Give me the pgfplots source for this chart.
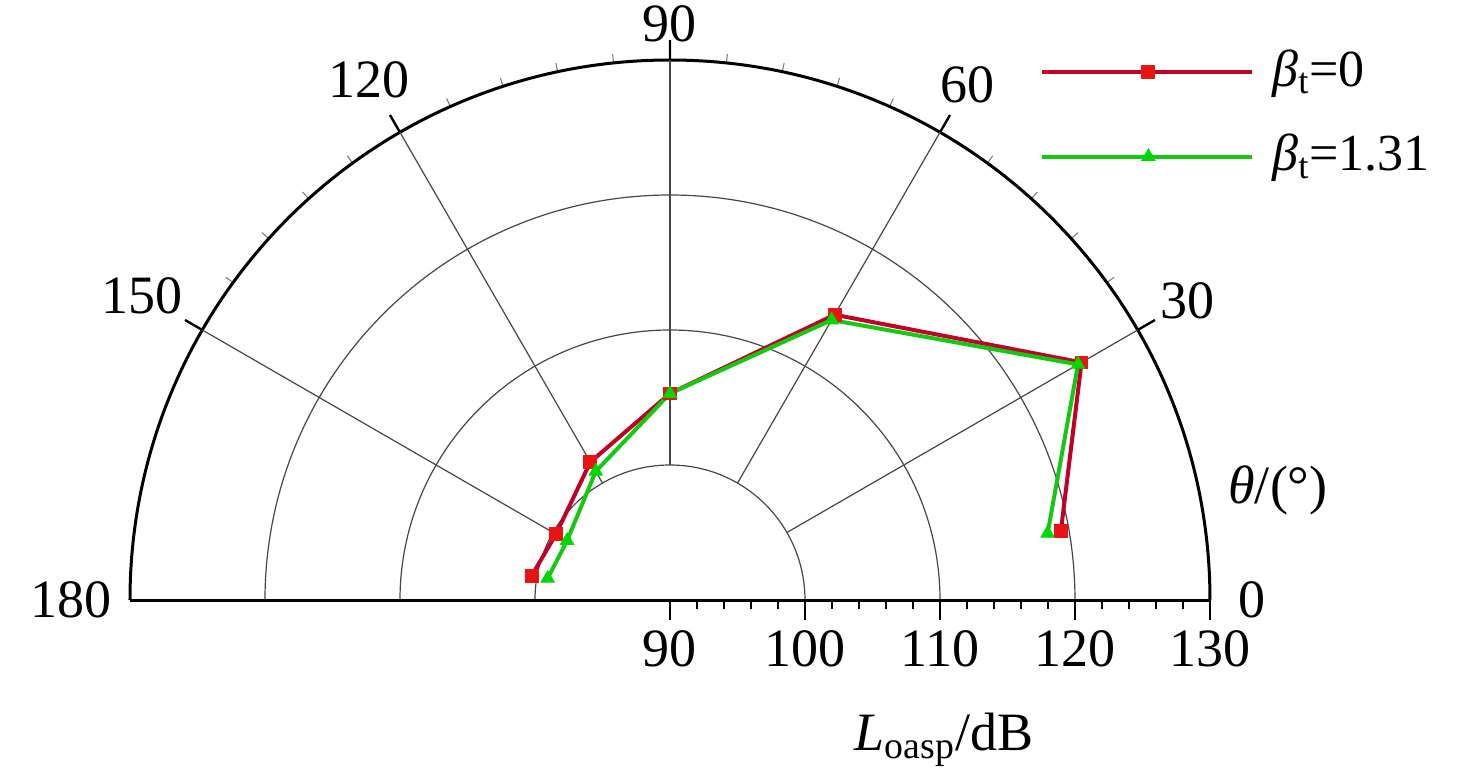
\documentclass[border=0pt]{standalone}
\usepackage{fontspec}
\setmainfont{Liberation Serif}
\usepackage{pgfplots}
\usepackage{pgfplotstable}
\pgfplotsset{compat=1.18}
\usepgfplotslibrary{polar}
\definecolor{redline}{RGB}{192,0,40}
\definecolor{redmark}{RGB}{232,20,20}
\definecolor{greenline}{RGB}{20,200,20}
\definecolor{greenmark}{RGB}{0,215,0}
\definecolor{gridgray}{RGB}{70,70,70}

\pgfplotstableread{
theta L
10 119.4
30 125.2
60 114.4
90 105.3
120 101.8
150 99.75
170 100.4
}\redtable
\pgfplotstableread{
theta L
10 118.4
30 124.9
60 113.95
90 105.3
120 101.0
150 98.8
170 99.2
}\greentable

\pgfplotsset{
  mylegend/.style={
    legend image code/.code={
      \draw[mark repeat=2,mark phase=2,##1] plot coordinates {(0pt,0pt) (53pt,0pt) (105pt,0pt)};
    }
  }
}

\begin{document}
\fontsize{27}{32}\selectfont
\begin{tikzpicture}
\path[use as bounding box] (-335pt,-88pt) rectangle (403pt,300pt);
\begin{polaraxis}[
  at={(0pt,0pt)}, anchor=origin,
  scale only axis, width=540pt, height=540pt,
  xmin=0, xmax=180, ymin=0, ymax=40,
  xtick={30,60,...,150}, minor x tick num=4,
  extra x ticks={0,180},
  extra x tick labels={\hspace{5pt}0, 180\hspace{-3pt}},
  extra x tick style={major tick length=0pt, xmajorgrids=false},
  ytick={0,10,...,40}, yticklabels={90,100,110,120,130}, minor y tick num=4,
  ytick pos=left,
  xmajorgrids=false, xminorgrids=false,
  ymajorgrids, yminorgrids=false,
  major grid style={gridgray, line width=0.6pt},
  axis line style={line width=1.5pt},
  tick align=inside,
  major tick length=10pt, minor tick length=4.5pt,
  every major tick/.append style={line width=1.2pt, black},
  every minor tick/.append style={line width=0.8pt, black},
  minor x tick style={line width=0.5pt, black!55},
  /pgf/number format/assume math mode=true,
  tick label style={font=\fontsize{27}{32}\selectfont},
  yticklabel style={anchor=north, yshift=-6pt},
  legend style={draw=none, fill=none, at={(axis cs:56.3,49.4)}, anchor=north west,
    font=\fontsize{26}{32}\selectfont, row sep=16pt, column sep=7pt, inner sep=0pt},
  legend cell align=left,
  mylegend,
]
\addplot[gridgray, line width=0.6pt, forget plot] coordinates {(30,10) (30,40)};
\addplot[gridgray, line width=0.6pt, forget plot] coordinates {(60,10) (60,40)};
\addplot[gridgray, line width=0.6pt, forget plot] coordinates {(90,10) (90,40)};
\addplot[gridgray, line width=0.6pt, forget plot] coordinates {(120,10) (120,40)};
\addplot[gridgray, line width=0.6pt, forget plot] coordinates {(150,10) (150,40)};
\addplot[redline, line width=2pt, mark=square*, mark size=3.2pt,
  mark options={fill=redmark, draw=redmark, line width=0.5pt}]
  table[x=theta, y expr=\thisrow{L}-90] {\redtable};
\addlegendentry{\textit{β}\textsubscript{t}=0}
\addplot[greenline, line width=2pt, mark=triangle*, mark size=3.8pt,
  mark options={fill=greenmark, draw=greenmark, line width=0.5pt}]
  table[x=theta, y expr=\thisrow{L}-90] {\greentable};
\addlegendentry{\textit{β}\textsubscript{t}=1.31}
\end{polaraxis}
\node at (304pt,55pt) {\textit{θ}/(°)};
\node at (137pt,-70pt) {\textit{L}\textsubscript{oasp}/dB};
\end{tikzpicture}
\end{document}
